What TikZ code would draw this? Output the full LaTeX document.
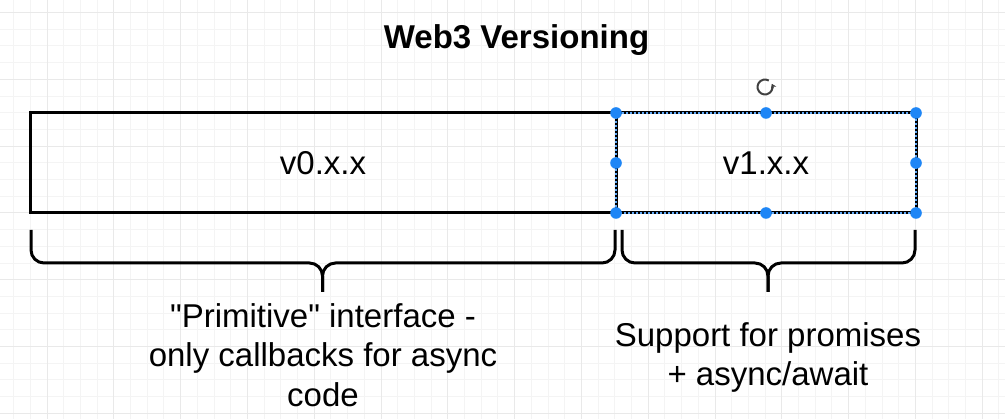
\documentclass[tikz,border=0pt]{standalone}
\usepackage{fontspec}
\setmainfont{Liberation Sans}
\usetikzlibrary{arrows.meta}
\definecolor{gridminor}{HTML}{F4F4F4}
\definecolor{gridmajor}{HTML}{E9E9E9}
\definecolor{handleblue}{HTML}{1E86F6}
\begin{document}
\begin{tikzpicture}[
    x=1pt, y=-1pt,
    version/.style={draw, line width=3pt, minimum height=100pt, inner sep=0pt, outer sep=0pt,
      font=\fontsize{33}{39.5}\selectfont},
    caption/.style={align=center, inner sep=0pt, anchor=north, font=\fontsize{33}{39.5}\selectfont},
    brace/.style={line width=3pt, rounded corners=13pt},
    selected/.style={draw=handleblue!70, line width=1.2pt, dash pattern=on 2pt off 2pt},
    handle/.style={fill=handleblue},
    rotate icon/.style={line width=2pt, draw=black!75, -{Stealth[length=4.5pt,width=6pt]}}
  ]
  \useasboundingbox (0,0) rectangle (1005,419);
  \fill[white] (0,0) rectangle (1005,419);
  % Draw the grid.
  \foreach \i in {0,...,59} \draw[gridminor] (13.3+\i*16.7,0) -- (13.3+\i*16.7,419);
  \foreach \j in {0,...,24} \draw[gridminor] (0,12.3+\j*16.7) -- (1005,12.3+\j*16.7);
  \foreach \i in {0,...,14} \draw[gridmajor] (46.7+\i*66.8,0) -- (46.7+\i*66.8,419);
  \foreach \j in {0,...,6} \draw[gridmajor] (0,12.3+\j*66.8) -- (1005,12.3+\j*66.8);
  % Draw the title.
  \node[anchor=base, inner sep=0pt, font=\fontsize{33}{39.5}\selectfont\bfseries] (title) at (516.5,48.3) {Web3 Versioning};
  % Draw the versions.
  \node[version, minimum width=586pt] (v0) at (323,163) {v0.x.x};
  \node[version, minimum width=300pt] (v1) at (766,163) {v1.x.x};
  \draw[selected] (v1.north west) rectangle (v1.south east);
  \foreach \a in {north west,north,north east,west,east,south west,south,south east}
    \fill[handle] (v1.\a) circle (5.8pt);
  \coordinate (rot) at (765,87);
  \draw[rotate icon] (rot) ++(-60:7.5) arc (-60:-385:7.5);
  % Draw the braces.
  \draw[brace] (31,230) -- (31,263) -- (322.5,263) -- (322.5,292);
  \draw[brace] (615,230) -- (615,263) -- (322.5,263) -- (322.5,292);
  \draw[brace] (622,230) -- (622,263) -- (768,263) -- (768,292);
  \draw[brace] (915,230) -- (915,263) -- (768,263) -- (768,292);
  % Draw the captions.
  \node[caption] (cap0) at (323,303) {\textquotedbl Primitive\textquotedbl{} interface -\\only callbacks for async\\code};
  \node[caption] (cap1) at (768,322) {Support for promises\\+ async/await};
\end{tikzpicture}
\end{document}
